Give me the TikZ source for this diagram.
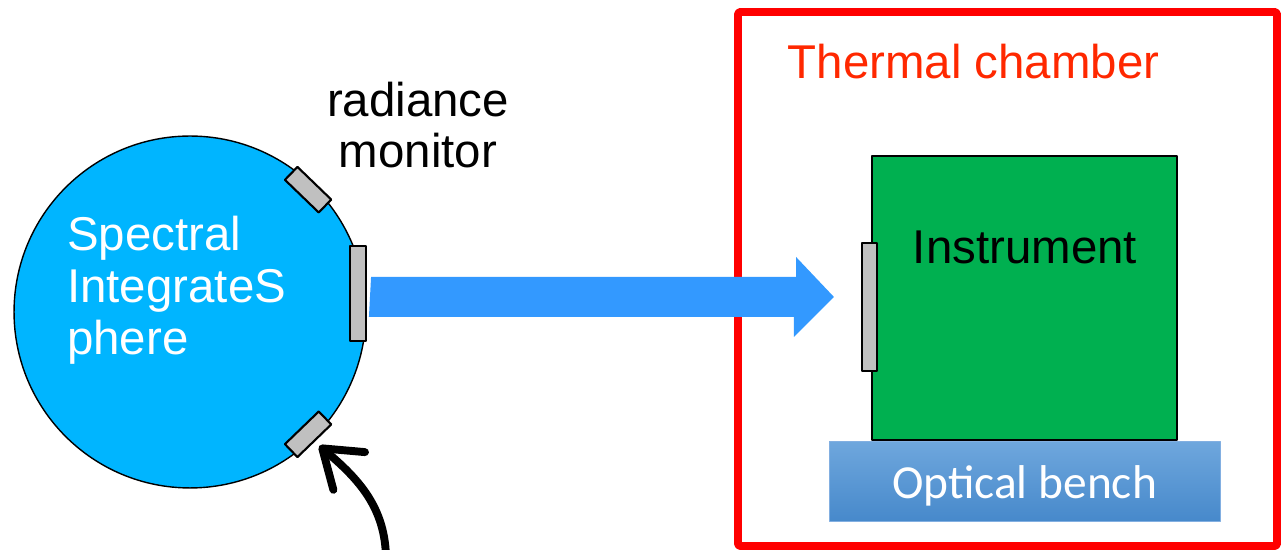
\documentclass[tikz,border=0pt]{standalone}
\usepackage{fontspec}
\setmainfont{Liberation Sans}
\newfontfamily\benchfont{Carlito}
\usetikzlibrary{arrows.meta,calc}

\definecolor{spherecol}{RGB}{0,181,255}
\definecolor{beamcol}{RGB}{51,153,255}
\definecolor{instcol}{RGB}{0,176,80}
\definecolor{chambercol}{RGB}{255,0,0}
\definecolor{chambertext}{RGB}{255,40,0}
\definecolor{portcol}{RGB}{192,192,192}
\definecolor{benchtop}{RGB}{111,167,221}
\definecolor{benchbot}{RGB}{71,137,203}
\definecolor{benchline}{RGB}{130,175,225}

\begin{document}
\begin{tikzpicture}[
    x = 0.02cm, y = 0.02cm,
    line join=round,
    bigtext/.style = {font=\fontsize{27}{29.5}\selectfont},
    port/.style = {draw, fill=portcol, line width=1.2pt, inner sep=0pt},
    feed/.style = {line width=4.5pt, line cap=round, -{Straight Barb[round, length=20pt, width=28pt]}}
]
    \useasboundingbox (0,0) rectangle (1281,550);

    % thermal chamber
    \draw[chambercol, line width=4.5pt, rounded corners=1pt] (738,4) rectangle (1277,538);
    \node[font=\fontsize{27}{30}\selectfont, text=chambertext] (chamberlabel) at (973.5,488) {Thermal chamber};

    % sphere with its ports
    \node[draw, circle, fill=spherecol, line width=0.8pt, minimum size=7.04cm, inner sep=0pt] (sphere) at (190,238) {};
    \node[port, minimum width=0.94cm, minimum height=0.36cm, rotate=-44] (topport) at ($(sphere.center)+(46:170)$) {};
    \node[port, minimum width=0.94cm, minimum height=0.36cm, rotate=44] (botport) at ($(sphere.center)+(-46:170)$) {};
    \node[port, minimum width=0.32cm, minimum height=1.9cm] (sideport) at (358,256.5) {};
    \node[bigtext, text=white, align=left, anchor=west] (spherelabel) at (61,260) {Spectral\\IntegrateS\\phere};
    \node[bigtext, align=center] (monitor) at (418,425) {radiance\\monitor};

    % instrument on the bench
    \node[draw, fill=instcol, line width=1.2pt, minimum width=6.1cm, minimum height=5.68cm] (instrument) at (1024.5,252) {};
    \node[bigtext] (instlabel) at (1025,303) {Instrument};
    \node[port, minimum width=0.3cm, minimum height=2.56cm] (instport) at (869.5,243) {};
    \node[draw=benchline, top color=benchtop, bottom color=benchbot, minimum width=7.82cm, minimum height=1.6cm] (bench) at (1024.5,69) {};
    \node[text=white, font=\benchfont\fontsize{27}{30}\selectfont] (benchlabel) at (1024.5,64) {Optical bench};

    % beam
    \coordinate (beamtail) at ($(sideport.east)+(4,-3.5)$);
    \coordinate (beamtip) at ($(instport.west)+(-27,10)$);
    \fill[beamcol] (beamtail) ++(0,20) -- ++(425,0) -- ++(0,20) -- (beamtip) -- ++(-40,-40) -- ++(0,20) -- ++(-425,0) -- cycle;

    \coordinate (lamp) at (386,-10);
    \coordinate (feedtip) at ($(botport.south)+(-46:6)$);
    \draw[feed] (lamp) to[out=90, in=-40] (feedtip);

\end{tikzpicture}
\end{document}
